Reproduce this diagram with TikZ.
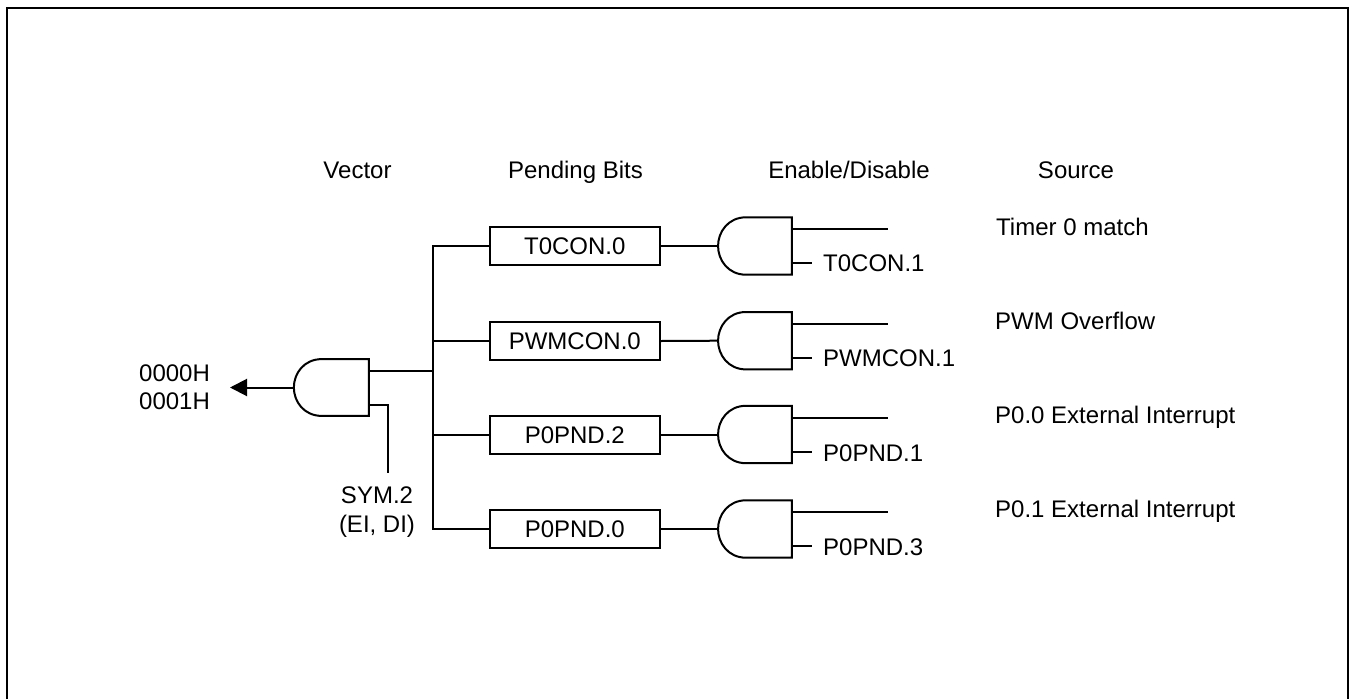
\documentclass[tikz,border=0pt]{standalone}
\usepackage{fontspec}
\setmainfont{Liberation Sans}
\usetikzlibrary{arrows.meta}
\tikzset{
  x=1pt,y=-1pt,
  wire/.style={line width=2pt,line join=miter,black},
  lbl/.style={inner sep=0pt,font=\fontsize{24}{24}\selectfont,text=black,anchor=base west},
  lblc/.style={inner sep=0pt,font=\fontsize{24}{24}\selectfont,text=black,anchor=base},
  reg/.style={draw,line width=2pt,minimum width=170.5pt,minimum height=38pt,inner sep=0pt,
    font=\fontsize{24}{24}\selectfont,text=black,text height=17.2pt,text depth=0pt},
  gatebox/.style={minimum width=73.5pt,minimum height=57pt,inner sep=0pt},
}
\begin{document}
\begin{tikzpicture}
\useasboundingbox (0,0) rectangle (1349,699);
% frame
\coordinate (fa) at (7,699);
\coordinate (fb) at (7,8);
\coordinate (fc) at (1347.5,8);
\coordinate (fd) at (1347.5,699);
\draw[line width=2pt,line join=miter] (fa) -- (fb) -- (fc) -- (fd);
% headers
\node[lblc] (h1) at (357.5,178) {Vector};
\node[lblc] (h2) at (575.5,178) {Pending Bits};
\node[lblc] (h3) at (849,178) {Enable/Disable};
\node[lblc] (h4) at (1076,178) {Source};
% sources
\node[lbl] (s1) at (996,235) {Timer 0 match};
\node[lbl] (s2) at (995,329) {PWM Overflow};
\node[lbl] (s3) at (995,423) {P0.0 External Interrupt};
\node[lbl] (s4) at (995,517) {P0.1 External Interrupt};
% main gate
\node[gatebox,minimum width=74.7pt,minimum height=56.4pt] (g0) at (331.4,387.5) {};
\draw[wire] ([xshift=28pt]g0.north west) -- (g0.north east) -- (g0.south east) -- ([xshift=28pt]g0.south west)
  .. controls ([xshift=10pt]g0.south west) and ([yshift=-14pt]g0.west) .. (g0.west)
  .. controls ([yshift=14pt]g0.west) and ([xshift=10pt]g0.north west) .. ([xshift=28pt]g0.north west);
% registers
\node[reg] (r1) at (574.8,246) {T0CON.0};
\node[reg] (r2) at (574.8,341) {PWMCON.0};
\node[reg] (r3) at (574.8,434.5) {P0PND.2};
\node[reg] (r4) at (574.8,529) {P0PND.0};
% gates
\foreach \n/\y in {1/246,2/340.7,3/434.5,4/529}{
  \node[gatebox] (g\n) at (755,\y) {};
  \draw[wire] ([xshift=28pt]g\n.north west) -- (g\n.north east) -- (g\n.south east) -- ([xshift=28pt]g\n.south west)
    .. controls ([xshift=10pt]g\n.south west) and ([yshift=-14pt]g\n.west) .. (g\n.west)
    .. controls ([yshift=14pt]g\n.west) and ([xshift=10pt]g\n.north west) .. ([xshift=28pt]g\n.north west);
  \coordinate (a\n) at ([yshift=17pt]g\n.east);
  \coordinate (b\n) at ([yshift=-17pt]g\n.east);
  \coordinate (ae\n) at ([xshift=96pt]a\n);
  \coordinate (be\n) at ([xshift=20pt]b\n);
  \draw[wire] (a\n) -- (ae\n);
  \draw[wire] (b\n) -- (be\n);
  \draw[wire] (r\n.east) -- (g\n.west);
}
% enable labels
\node[lbl] (e1) at (823,271.5) {T0CON.1};
\node[lbl] (e2) at (823,366) {PWMCON.1};
\node[lbl] (e3) at (823,461) {P0PND.1};
\node[lbl] (e4) at (823,555) {P0PND.3};
% bus
\coordinate (bt) at (433,246);
\coordinate (bb) at (433,529);
\coordinate (bj) at (433,371);
\draw[wire] (r1.west) -- (bt) -- (bb) -- (r4.west);
\draw[wire] (r2.west) -- (r2.west -| bt);
\draw[wire] (r3.west) -- (r3.west -| bt);
\draw[wire] (g0.east |- bj) -- (bj);
% enable stub of main gate
\coordinate (k1) at (368.8,404.7);
\coordinate (k2) at (388,404.7);
\coordinate (k3) at (388,473);
\draw[wire] (k1) -- (k2) -- (k3);
\node[lblc] (sy) at (377,503.5) {SYM.2};
\node[lblc] (ei) at (377,532.5) {(EI, DI)};
% output
\coordinate (out) at (230,387.5);
\draw[wire,-{Triangle[length=17pt,width=17pt]}] (g0.west) -- (out);
\node[lbl] (v1) at (139,381) {0000H};
\node[lbl] (v2) at (139,409) {0001H};
\end{tikzpicture}
\end{document}
